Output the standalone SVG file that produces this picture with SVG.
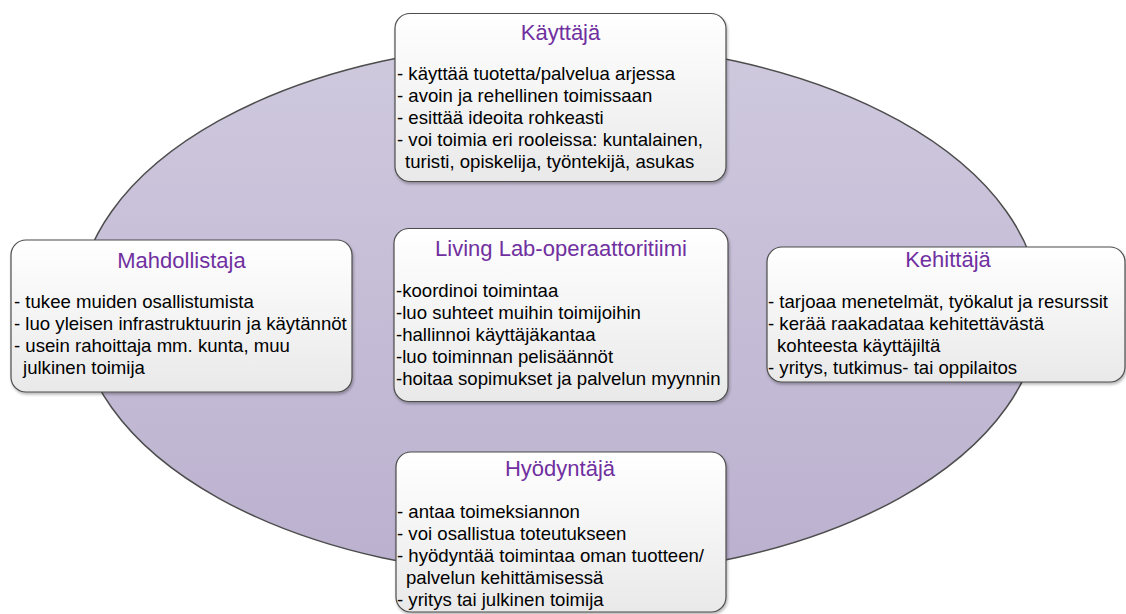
<svg xmlns="http://www.w3.org/2000/svg" width="1126" height="614" viewBox="0 0 1126 614">
<defs>
<linearGradient id="ellG" x1="0" y1="0" x2="0" y2="1">
<stop offset="0" stop-color="#cfc9de"/>
<stop offset="1" stop-color="#bbb1cf"/>
</linearGradient>
<linearGradient id="boxG" x1="0" y1="0" x2="0" y2="1">
<stop offset="0" stop-color="#ffffff"/>
<stop offset="1" stop-color="#e9e9e9"/>
</linearGradient>
<filter id="sh" x="-5%" y="-5%" width="110%" height="115%">
<feGaussianBlur in="SourceAlpha" stdDeviation="1.5"/>
<feOffset dx="1" dy="2" result="b"/>
<feComponentTransfer><feFuncA type="linear" slope="0.3"/></feComponentTransfer>
<feMerge><feMergeNode/><feMergeNode in="SourceGraphic"/></feMerge>
</filter>
</defs>
<style>
.box{fill:url(#boxG);stroke:#4d4d4d;stroke-width:1.2;filter:url(#sh)}
.t{font-family:"Liberation Sans",Arial,sans-serif;font-size:22px;fill:#7030a0;text-anchor:middle}
.b{font-family:"Liberation Sans",Arial,sans-serif;font-size:18.6px;fill:#000}
</style>
<g id="background">
<ellipse cx="559" cy="309.5" rx="481" ry="267" fill="url(#ellG)" stroke="#4d4d4d" stroke-width="1.5"/>
</g>
<g id="connectors"></g>
<g id="kayttaja">
<rect class="box" x="395" y="13.5" width="331" height="168" rx="15"/>
<text class="t" x="560.5" y="40">Käyttäjä</text>
<text class="b" x="397" y="80">- käyttää tuotetta/palvelua arjessa</text>
<text class="b" x="397" y="102">- avoin ja rehellinen toimissaan</text>
<text class="b" x="397" y="124">- esittää ideoita rohkeasti</text>
<text class="b" x="397" y="146">- voi toimia eri rooleissa: kuntalainen,</text>
<text class="b" x="405" y="168">turisti, opiskelija, työntekijä, asukas</text>
</g>
<g id="mahdollistaja">
<rect class="box" x="11" y="240" width="341" height="152" rx="15"/>
<text class="t" x="181.5" y="268">Mahdollistaja</text>
<text class="b" x="14" y="308">- tukee muiden osallistumista</text>
<text class="b" x="14" y="330">- luo yleisen infrastruktuurin ja käytännöt</text>
<text class="b" x="14" y="352">- usein rahoittaja mm. kunta, muu</text>
<text class="b" x="23" y="374">julkinen toimija</text>
</g>
<g id="operaattori">
<rect class="box" x="394" y="228.5" width="334" height="173" rx="15"/>
<text class="t" x="561" y="255.5">Living Lab-operaattoritiimi</text>
<text class="b" x="396" y="297">-koordinoi toimintaa</text>
<text class="b" x="396" y="319">-luo suhteet muihin toimijoihin</text>
<text class="b" x="396" y="341">-hallinnoi käyttäjäkantaa</text>
<text class="b" x="396" y="363">-luo toiminnan pelisäännöt</text>
<text class="b" x="396" y="385">-hoitaa sopimukset ja palvelun myynnin</text>
</g>
<g id="kehittaja">
<rect class="box" x="767" y="247" width="358" height="135" rx="15"/>
<text class="t" x="948" y="267">Kehittäjä</text>
<text class="b" x="768" y="308">- tarjoaa menetelmät, työkalut ja resurssit</text>
<text class="b" x="768" y="330">- kerää raakadataa kehitettävästä</text>
<text class="b" x="777" y="352">kohteesta käyttäjiltä</text>
<text class="b" x="768" y="374">- yritys, tutkimus- tai oppilaitos</text>
</g>
<g id="hyodyntaja">
<rect class="box" x="396" y="452" width="330" height="160" rx="15"/>
<text class="t" x="560" y="475.5">Hyödyntäjä</text>
<text class="b" x="397" y="518">- antaa toimeksiannon</text>
<text class="b" x="397" y="540">- voi osallistua toteutukseen</text>
<text class="b" x="397" y="562">- hyödyntää toimintaa oman tuotteen/</text>
<text class="b" x="406" y="584">palvelun kehittämisessä</text>
<text class="b" x="397" y="606">- yritys tai julkinen toimija</text>
</g>
</svg>
